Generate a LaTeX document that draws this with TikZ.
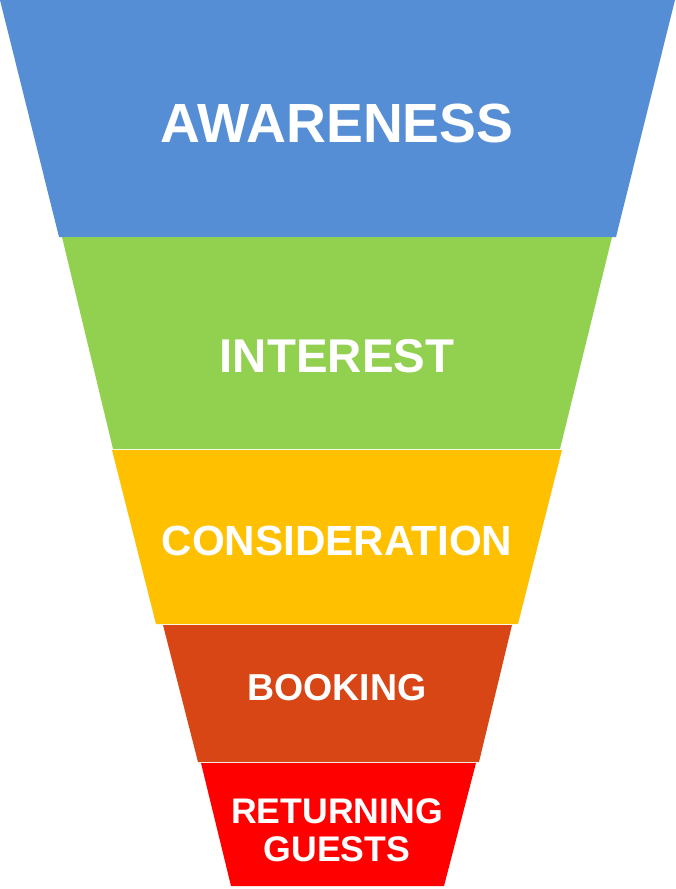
\documentclass[tikz,border=0pt]{standalone}
\usepackage{fontspec}
\setmainfont{Liberation Sans}
\usetikzlibrary{positioning}

\definecolor{awareblue}{HTML}{558ED5}
\definecolor{interestgreen}{HTML}{92D050}
\definecolor{considergold}{HTML}{FFC000}
\definecolor{bookingrust}{HTML}{D84616}
\definecolor{returnred}{HTML}{FF0000}

\begin{document}
\begin{tikzpicture}[x=1pt, y=-1pt,
  stagetext/.style={text=white, font=\bfseries, inner sep=0pt, align=center}]
\useasboundingbox (0,0) rectangle (675,889);

% funnel stages, top to bottom
\fill[awareblue] (0,0) -- (675,0) -- (616,237) -- (59,237) -- cycle;
\fill[interestgreen] (62,237) -- (612,237) -- (560,449) -- (113,449) -- cycle;
\fill[considergold] (112,450) -- (562,450) -- (518,624) -- (156,624) -- cycle;
\fill[bookingrust] (163,625) -- (512,625) -- (479,762) -- (198,762) -- cycle;
\fill[returnred] (201,763) -- (476,763) -- (444,886) -- (231,886) -- cycle;

% labels
\node[stagetext, font=\bfseries\fontsize{55.2}{60}\selectfont] (awareness) at (337,123) {AWARENESS};
\node[stagetext, font=\bfseries\fontsize{47.4}{52}\selectfont] (interest) at (337,356) {INTEREST};
\node[stagetext, font=\bfseries\fontsize{42.2}{48}\selectfont] (consideration) at (337,541) {CONSIDERATION};
\node[stagetext, font=\bfseries\fontsize{37.5}{42}\selectfont] (booking) at (337,688) {BOOKING};
\node[stagetext, font=\bfseries\fontsize{35.6}{38}\selectfont] (returning) at (337,830) {RETURNING\\GUESTS};
\end{tikzpicture}
\end{document}
